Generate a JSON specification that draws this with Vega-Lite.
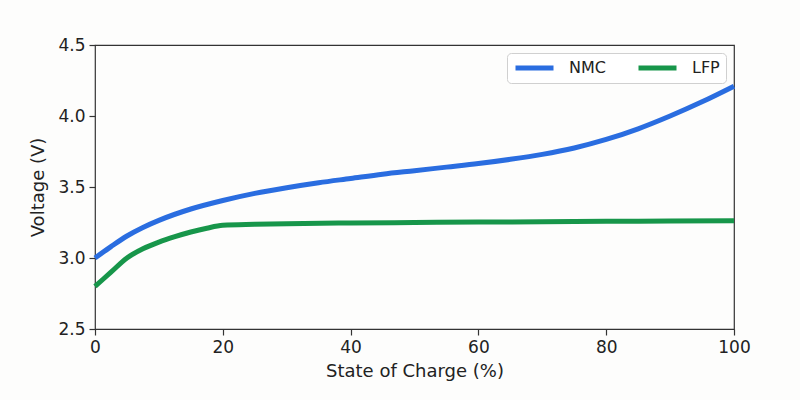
{
  "$schema": "https://vega.github.io/schema/vega-lite/v6.json",
  "width": 639,
  "height": 284,
  "autosize": {"type": "none"},
  "padding": {"left": 95, "top": 45, "right": 66, "bottom": 71},
  "background": "#fdfdfc",
  "data": {
    "values": [
      {"soc": 0, "chem": "NMC", "volt": 3.00},
      {"soc": 2.5, "chem": "NMC", "volt": 3.08},
      {"soc": 5, "chem": "NMC", "volt": 3.155},
      {"soc": 7.5, "chem": "NMC", "volt": 3.215},
      {"soc": 10, "chem": "NMC", "volt": 3.265},
      {"soc": 15, "chem": "NMC", "volt": 3.345},
      {"soc": 20, "chem": "NMC", "volt": 3.405},
      {"soc": 25, "chem": "NMC", "volt": 3.455},
      {"soc": 30, "chem": "NMC", "volt": 3.495},
      {"soc": 35, "chem": "NMC", "volt": 3.53},
      {"soc": 40, "chem": "NMC", "volt": 3.56},
      {"soc": 45, "chem": "NMC", "volt": 3.59},
      {"soc": 50, "chem": "NMC", "volt": 3.615},
      {"soc": 55, "chem": "NMC", "volt": 3.64},
      {"soc": 60, "chem": "NMC", "volt": 3.665},
      {"soc": 65, "chem": "NMC", "volt": 3.695},
      {"soc": 70, "chem": "NMC", "volt": 3.73},
      {"soc": 75, "chem": "NMC", "volt": 3.775},
      {"soc": 80, "chem": "NMC", "volt": 3.835},
      {"soc": 85, "chem": "NMC", "volt": 3.91},
      {"soc": 90, "chem": "NMC", "volt": 4.0},
      {"soc": 95, "chem": "NMC", "volt": 4.1},
      {"soc": 100, "chem": "NMC", "volt": 4.21},
      {"soc": 0, "chem": "LFP", "volt": 2.80},
      {"soc": 2.5, "chem": "LFP", "volt": 2.90},
      {"soc": 5, "chem": "LFP", "volt": 3.00},
      {"soc": 7.5, "chem": "LFP", "volt": 3.065},
      {"soc": 10, "chem": "LFP", "volt": 3.112},
      {"soc": 12.5, "chem": "LFP", "volt": 3.15},
      {"soc": 15, "chem": "LFP", "volt": 3.183},
      {"soc": 17.5, "chem": "LFP", "volt": 3.21},
      {"soc": 20, "chem": "LFP", "volt": 3.23},
      {"soc": 25, "chem": "LFP", "volt": 3.237},
      {"soc": 30, "chem": "LFP", "volt": 3.242},
      {"soc": 40, "chem": "LFP", "volt": 3.247},
      {"soc": 50, "chem": "LFP", "volt": 3.25},
      {"soc": 60, "chem": "LFP", "volt": 3.253},
      {"soc": 70, "chem": "LFP", "volt": 3.255},
      {"soc": 80, "chem": "LFP", "volt": 3.258},
      {"soc": 90, "chem": "LFP", "volt": 3.26},
      {"soc": 100, "chem": "LFP", "volt": 3.263}
    ]
  },
  "mark": {"type": "line", "strokeWidth": 5, "strokeCap": "butt", "strokeJoin": "round", "interpolate": "monotone"},
  "encoding": {
    "x": {
      "field": "soc", "type": "quantitative",
      "title": "State of Charge (%)",
      "scale": {"domain": [0, 100], "nice": false},
      "axis": {"values": [0, 20, 40, 60, 80, 100], "labelFlush": false}
    },
    "y": {
      "field": "volt", "type": "quantitative",
      "title": "Voltage (V)",
      "scale": {"domain": [2.5, 4.5], "nice": false, "zero": false},
      "axis": {"values": [2.5, 3.0, 3.5, 4.0, 4.5], "format": ".1f"}
    },
    "color": {
      "field": "chem", "type": "nominal",
      "scale": {"domain": ["NMC", "LFP"], "range": ["#2a6de0", "#17964a"]},
      "legend": {
        "title": null,
        "orient": "top-right",
        "direction": "horizontal",
        "offset": 8,
        "symbolType": "stroke",
        "symbolSize": 1444,
        "symbolStrokeWidth": 5,
        "clipHeight": 18,
        "labelFontSize": 16,
        "labelOffset": 13,
        "columnPadding": 30,
        "padding": 6,
        "strokeColor": "#d0d0d0",
        "fillColor": "#ffffff",
        "cornerRadius": 4
      }
    }
  },
  "config": {
    "font": "DejaVu Sans",
    "view": {"stroke": "#333333", "strokeWidth": 1.2},
    "axis": {
      "grid": false,
      "domain": false,
      "tickColor": "#333333",
      "tickSize": 6,
      "tickWidth": 1.2,
      "labelFontSize": 17,
      "labelColor": "#222222",
      "labelPadding": 4,
      "titleFontSize": 18,
      "titleFontWeight": "normal",
      "titleColor": "#222222"
    },
    "axisX": {"titlePadding": 7},
    "axisY": {"titlePadding": 10},
    "legend": {"labelColor": "#222222"}
  }
}
